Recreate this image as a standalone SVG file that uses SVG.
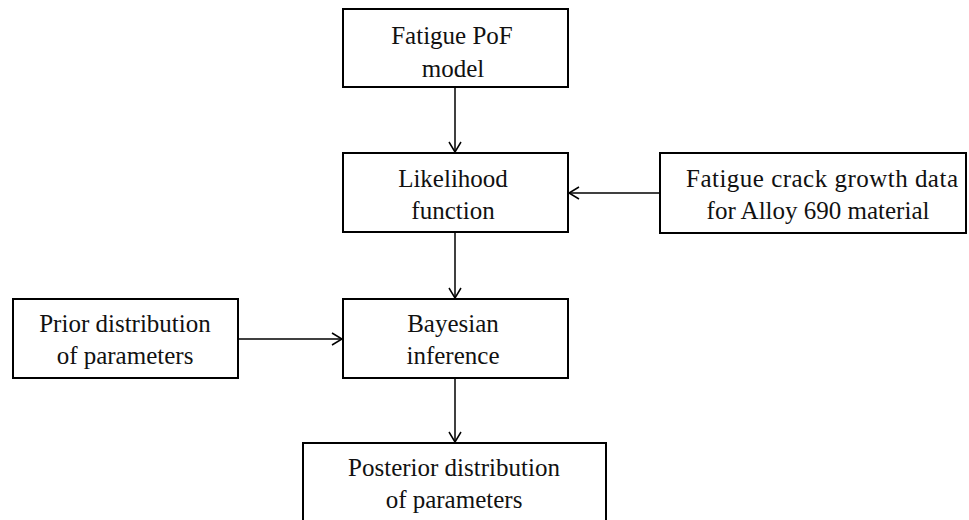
<svg xmlns="http://www.w3.org/2000/svg" width="969" height="520" viewBox="0 0 969 520">
<style>
.box{fill:#fff;stroke:#000;stroke-width:2}
.c{stroke:#000;stroke-width:1.5;fill:none}
</style>
<defs>
<marker id="ah" markerWidth="14" markerHeight="14" refX="11" refY="7" orient="auto" markerUnits="userSpaceOnUse">
<path d="M1,1 L11,7 L1,13" fill="none" stroke="#000" stroke-width="1.5"/>
</marker>
</defs>
<rect width="969" height="520" fill="#fff"/>
<g id="connectors">
<line class="c" x1="455" y1="87" x2="455" y2="152" marker-end="url(#ah)"/>
<line class="c" x1="660" y1="193" x2="569" y2="193" marker-end="url(#ah)"/>
<line class="c" x1="455" y1="232" x2="455" y2="298" marker-end="url(#ah)"/>
<line class="c" x1="238" y1="339" x2="342" y2="339" marker-end="url(#ah)"/>
<line class="c" x1="455" y1="378" x2="455" y2="442" marker-end="url(#ah)"/>
</g>
<g font-family="'Liberation Serif', 'DejaVu Serif', serif" font-size="25" fill="#111" text-anchor="middle">
<g id="fatigue-pof">
<rect class="box" x="343" y="9" width="225" height="78"/>
<text x="452" y="44">Fatigue PoF</text>
<text x="453" y="77">model</text>
</g>
<g id="likelihood">
<rect class="box" x="343" y="153" width="225" height="79"/>
<text x="453" y="187">Likelihood</text>
<text x="453" y="219">function</text>
</g>
<g id="crack-data">
<rect class="box" x="660" y="153" width="306" height="80"/>
<text x="822" y="187" textLength="272" lengthAdjust="spacing">Fatigue crack growth data</text>
<text x="818" y="219">for Alloy 690 material</text>
</g>
<g id="prior">
<rect class="box" x="13" y="299" width="225" height="79"/>
<text x="125" y="332">Prior distribution</text>
<text x="125" y="364">of parameters</text>
</g>
<g id="bayesian">
<rect class="box" x="343" y="299" width="225" height="79"/>
<text x="453" y="332">Bayesian</text>
<text x="453" y="364">inference</text>
</g>
<g id="posterior">
<rect class="box" x="303" y="443" width="303" height="80"/>
<text x="454" y="476">Posterior distribution</text>
<text x="454" y="508">of parameters</text>
</g>
</g>
</svg>
